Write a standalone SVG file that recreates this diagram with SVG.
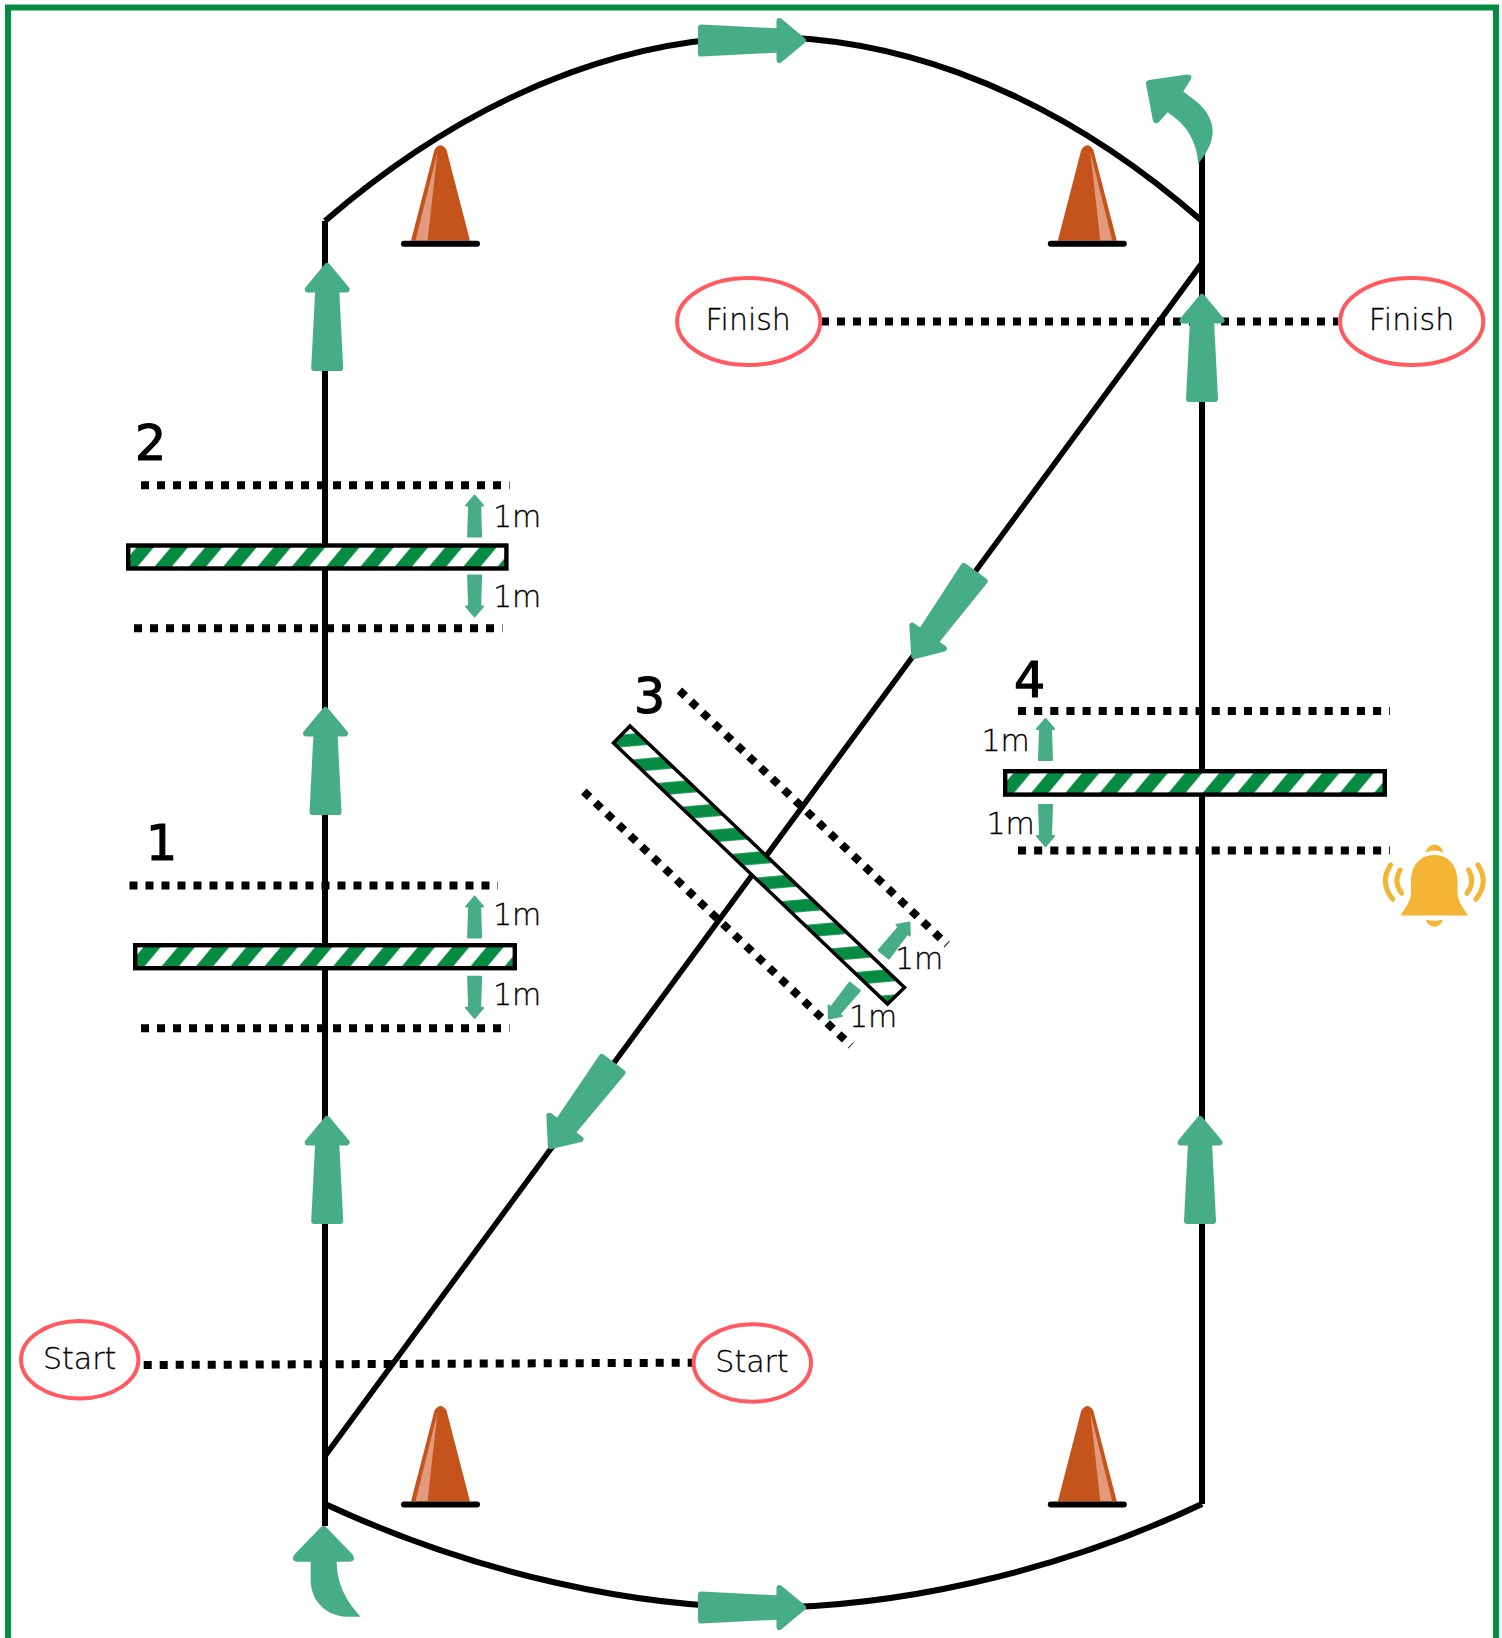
<svg xmlns="http://www.w3.org/2000/svg" xmlns:xlink="http://www.w3.org/1999/xlink" width="1502" height="1638" viewBox="0 0 1502 1638">
<style>
.route{fill:none;stroke:#000;stroke-width:6}
.dot{fill:none;stroke:#000;stroke-width:8;stroke-dasharray:8 8}
.ar{fill:#47AD87;stroke:#47AD87;stroke-width:6;stroke-linejoin:round}
.ars{fill:#47AD87;stroke:#47AD87;stroke-width:2;stroke-linejoin:round}
.bar{fill:url(#stripes);stroke:#000;stroke-width:4.4}
.el{fill:#fff;stroke:#FF5A5F;stroke-width:4}
.lbl{font-family:"DejaVu Sans",sans-serif;font-weight:200;fill:#000;stroke:#000;stroke-width:.3}
.big{font-size:30px}
.m{font-size:30px}
.num{font-family:"DejaVu Sans",sans-serif;font-size:49px;fill:#000;stroke:#000;stroke-width:1.2}
.wave{fill:none;stroke:#F4B436;stroke-width:5;stroke-linecap:round}
</style>
<defs>
<pattern id="stripes" width="34.3" height="40" patternUnits="userSpaceOnUse" patternTransform="skewX(-40)">
<rect x="0" y="0" width="34.3" height="40" fill="#fff"/>
<rect x="13.9" y="0" width="17.2" height="40" fill="#058C42"/>
</pattern>
<pattern id="stripes3" width="100" height="25.7" patternUnits="userSpaceOnUse" patternTransform="rotate(-5)">
<rect x="0" y="0" width="100" height="25.7" fill="#fff"/>
<rect x="0" y="15" width="100" height="12.5" fill="#058C42"/>
<rect x="0" y="-10.7" width="100" height="12.5" fill="#058C42"/>
</pattern>
<path id="arrow" class="ar" d="M0 3L19.5 26.5H9L13 105H-13L-9 26.5H-19.5Z"/>
<path id="arrowS" class="ars" d="M0 1L8.5 11H5.5L6.5 42H-6.5L-5.5 11H-8.5Z"/>
<g id="cone">
<path d="M-29.5 -3L-6 -94Q0 -103 6 -94L29.5 -3Z" fill="#C4541B"/>
<path d="M-3 -92L-25 -3H-13Z" fill="#E39A7C"/>
<line x1="-36.5" y1="0" x2="36.5" y2="0" stroke="#000" stroke-width="6" stroke-linecap="round"/>
</g>
</defs>
<rect id="frame" x="8" y="7.5" width="1488" height="1700" fill="none" stroke="#058C42" stroke-width="6"/>
<g id="connectors">
<line class="route" x1="325" y1="221" x2="325" y2="1526"/>
<line class="route" x1="1202" y1="150" x2="1202" y2="1504"/>
<path class="route" d="M325 221C500 70 660 37 764 37C868 37 1030 70 1202 221"/>
<path class="route" d="M325 1504C480 1576 640 1607.5 764 1607.5C888 1607.5 1050 1576 1202 1504"/>
<line class="route" style="stroke-width:5.5" x1="1202" y1="263" x2="325" y2="1456"/>
<line class="dot" x1="141" y1="485.3" x2="509.5" y2="485.3"/>
<line class="dot" x1="134" y1="628.3" x2="502.5" y2="628.3"/>
<line class="dot" x1="129.5" y1="885.4" x2="498" y2="885.4"/>
<line class="dot" x1="141" y1="1028.3" x2="509.5" y2="1028.3"/>
<line class="dot" style="stroke-dasharray:8.07 8.07" x1="1018" y1="711" x2="1390" y2="711"/>
<line class="dot" style="stroke-dasharray:8.07 8.07" x1="1018" y1="850.4" x2="1390" y2="850.4"/>
<line class="dot" x1="821" y1="321.4" x2="1338" y2="321.4"/>
<line class="dot" x1="143.7" y1="1365" x2="692" y2="1362.7"/>
<line class="dot" x1="679.4" y1="690.5" x2="947" y2="944.5"/>
<line class="dot" x1="583.8" y1="791.5" x2="851" y2="1045.7"/>
<use href="#arrow" transform="translate(327.2 263)"/>
<use href="#arrow" transform="translate(325.5 707)"/>
<use href="#arrow" transform="translate(327.2 1116)"/>
<use href="#arrow" transform="translate(1202 294)"/>
<use href="#arrow" transform="translate(1200 1116)"/>
<use href="#arrow" transform="translate(806 40.5) rotate(90)"/>
<use href="#arrow" transform="translate(806 1607.5) rotate(90)"/>
<use href="#arrow" transform="translate(912.5 658.5) rotate(216)"/>
<use href="#arrow" transform="translate(549 1148.6) rotate(217)"/>
<path fill="#47AD87" d="M321 1527Q323.5 1524.5 326 1527L353 1555Q356 1561 350 1561.7L336.7 1561.7C337 1585 347 1602 360.7 1616.7L347 1616.7C325 1616 310.7 1600 310.7 1580L310.7 1561.7L297 1561.7Q291 1561 294 1555Z"/>
<path fill="#47AD87" d="M1146 84Q1145.5 81 1149 80L1187 74.5Q1193 74.5 1191 79L1183.3 91.5L1197 102C1207 110 1213 122 1212.7 132C1212 146 1205 154 1198.3 164C1197 145 1190 132 1180 122Q1174 117 1167.7 112.3L1159 122Q1155 125 1153 121Z"/>
</g>
<g id="barrier-1">
<g transform="translate(133 943)"><rect class="bar" x="2.2" y="2.2" width="379.6" height="23"/></g>
<use href="#arrowS" transform="translate(474.6 895.6)"/>
<use href="#arrowS" transform="translate(474.6 1018.8) rotate(180)"/>
<text class="num" x="146" y="860">1</text>
<text class="lbl m" x="493" y="925">1m</text>
<text class="lbl m" x="493" y="1005">1m</text>
</g>
<g id="barrier-2">
<g transform="translate(126 543.3)"><rect class="bar" x="2.2" y="2.2" width="378.2" height="23"/></g>
<use href="#arrowS" transform="translate(474.6 494.6)"/>
<use href="#arrowS" transform="translate(474.6 617.4) rotate(180)"/>
<text class="num" x="135" y="460">2</text>
<text class="lbl m" x="493" y="526.8">1m</text>
<text class="lbl m" x="493" y="607">1m</text>
</g>
<g id="barrier-3">
<polygon points="630,726 613.5,743 887.5,1004 904.5,987.5" fill="url(#stripes3)" stroke="#000" stroke-width="3.5"/>
<use href="#arrowS" transform="translate(910 921.7) rotate(38.7)"/>
<use href="#arrowS" transform="translate(828.3 1019.3) rotate(219)"/>
<text class="num" x="634" y="713">3</text>
<text class="lbl m" x="895" y="969.3">1m</text>
<text class="lbl m" x="849" y="1027.3">1m</text>
</g>
<g id="barrier-4">
<g transform="translate(1003 769)"><rect class="bar" x="2.2" y="2.2" width="379.6" height="23.4"/></g>
<use href="#arrowS" transform="translate(1045.5 718)"/>
<use href="#arrowS" transform="translate(1045.5 847) rotate(180)"/>
<text class="num" x="1014" y="697">4</text>
<text class="lbl m" x="981.5" y="750.8">1m</text>
<text class="lbl m" x="986.5" y="834">1m</text>
</g>
<g id="finish-left"><ellipse class="el" cx="748.7" cy="321.5" rx="71.6" ry="43.5"/><text class="lbl big" x="748.2" y="330.4" text-anchor="middle">Finish</text></g>
<g id="finish-right"><ellipse class="el" cx="1411.7" cy="321.5" rx="71.6" ry="43.5"/><text class="lbl big" x="1411.5" y="329.5" text-anchor="middle">Finish</text></g>
<g id="start-left"><ellipse class="el" cx="79.7" cy="1359.7" rx="58.7" ry="38.7"/><text class="lbl big" x="79.7" y="1368.7" text-anchor="middle">Start</text></g>
<g id="start-right"><ellipse class="el" cx="752.3" cy="1363" rx="58.7" ry="38.7"/><text class="lbl big" x="752" y="1371.5" text-anchor="middle">Start</text></g>
<g id="cone-tl"><use href="#cone" transform="translate(440.5 243.7)"/></g>
<g id="cone-tr"><use href="#cone" transform="translate(1087.3 243.7) scale(-1 1)"/></g>
<g id="cone-bl"><use href="#cone" transform="translate(440.5 1504.4)"/></g>
<g id="cone-br"><use href="#cone" transform="translate(1087.3 1504.4) scale(-1 1)"/></g>
<g id="bell">
<path fill="#F4B436" d="M1434.3 855C1419 855 1411 867 1411 881L1411 891C1411 902 1405 908 1400.5 915.5L1468 915.5C1463.5 908 1457.5 902 1457.5 891L1457.5 881C1457.5 867 1449.5 855 1434.3 855Z"/>
<path fill="#F4B436" d="M1426 852.5C1427 842 1442 842 1443 852.5Q1434.3 848.5 1426 852.5Z"/>
<path fill="#F4B436" d="M1426 919.5Q1434.3 922 1442.7 919.5C1441 929 1428 929 1426 919.5Z"/>
<path class="wave" d="M1390.7 865Q1379 882 1392.7 899.3"/>
<path class="wave" d="M1400 870Q1393 882 1401.7 893.3"/>
<path class="wave" d="M1477.9 865Q1489.6 882 1475.9 899.3"/>
<path class="wave" d="M1468.6 870Q1475.6 882 1466.9 893.3"/>
</g>
</svg>
